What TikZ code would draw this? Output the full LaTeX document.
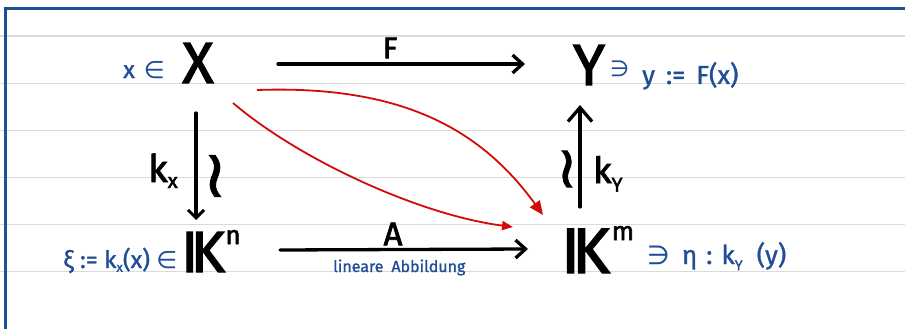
\documentclass[tikz,border=0pt]{standalone}
\usepackage{fontspec}
\setmainfont{Fira Sans}
\newfontfamily\symf{DejaVu Sans}
\newfontfamily\heavy{Fira Sans}[FakeBold=2.2]
\newfontfamily\medf{Fira Sans}[FakeBold=1.2]
\newfontfamily\symheavy{DejaVu Sans}[FakeBold=1.5]
\usetikzlibrary{arrows.meta,calc}
\definecolor{inkblue}{HTML}{1F4E96}
\definecolor{frameblue}{HTML}{1B4F93}
\definecolor{inkred}{HTML}{D20A0A}
\definecolor{rulegrey}{HTML}{DADADA}
\newcommand\lsub[2][-0.3ex]{\raisebox{#1}{\scalebox{0.55}{#2}}}
\tikzset{
  big/.style={inner sep=0pt, font=\fontsize{58}{60}\selectfont\heavy},
  lbl/.style={inner sep=0pt},
  bluetxt/.style={inner sep=0pt, text=inkblue, anchor=base west},
  blackarrow/.style={line width=3.3pt, line cap=round, line join=round},
  redarrow/.style={inkred, line width=1.8pt},
  rulestyle/.style={rulegrey, line width=1.6pt}
}
\begin{document}
\begin{tikzpicture}[x=1pt,y=-1pt]
\useasboundingbox (0,0) rectangle (905,329);
% ruled paper
\foreach \yy in {36,83.5,130.5,177.5,224.5,271.5}
  \draw[rulestyle] (0,\yy) -- (905,\yy);
% frame
\draw[frameblue, line width=3.6pt] (5.6,335) -- (5.6,8.5) -- (910,8.5);

% main objects
\node[big] (X) at (198,63) {X};
\node[big] (Y) at (589,65) {Y};
\node[lbl, anchor=base west, font=\fontsize{58}{60}\selectfont\heavy] (Kn) at (181,272)
  {I\kern-7.5pt K\kern0.5pt\raisebox{28pt}{\fontsize{26}{26}\selectfont n}};
\node[lbl, anchor=base west, font=\fontsize{64}{66}\selectfont\heavy] (Km) at (561,273)
  {I\kern-8pt K\kern2pt\raisebox{33pt}{\fontsize{26}{26}\selectfont m}};

% arrow labels
\node[lbl, font=\fontsize{30}{30}\selectfont\heavy] (F) at (390,48) {F};
\node[lbl, font=\fontsize{33}{33}\selectfont\heavy] (A) at (393,234) {A};
\node[lbl, anchor=base west, font=\fontsize{38}{38}\selectfont\heavy] (kx) at (148,182) {k\lsub{x}};
\node[lbl, anchor=base west, font=\fontsize{36}{36}\selectfont\heavy] (ky) at (593,183) {k\lsub[-0.45ex]{Y}};
\node[lbl, font=\fontsize{66}{66}\selectfont\symheavy] (isoL) at (215,176) {≀};
\node[lbl, font=\fontsize{58}{58}\selectfont\symheavy] (isoR) at (567,169) {≀};

% blue annotations
\node[bluetxt, font=\fontsize{24}{24}\selectfont\medf] (xin) at (123,78) {x\hspace{9pt}{\symf ∈}};
\node[bluetxt, font=\fontsize{22}{22}\selectfont\symf] (ni1) at (610,77) {∋};
\node[bluetxt, font=\fontsize{26}{26}\selectfont\medf] (ydef) at (642,84) {y\hspace{11pt}:=\hspace{11pt}F(x)};
\node[bluetxt, font=\fontsize{24}{24}\selectfont\medf] (xidef) at (63,268) {ξ := k\lsub{x}(x) {\symf ∈}};
\node[bluetxt, font=\fontsize{26}{26}\selectfont\medf] (etadef) at (647,264)
  {{\symf ∋}\hspace{12pt}η\hspace{9pt}:\hspace{9pt}k\lsub[-0.45ex]{Y}\hspace{14pt}(y)};
\node[bluetxt, font=\fontsize{16}{16}\selectfont\medf] (lin) at (333,272) {lineare\hspace{8pt}Abbildung};

% black arrows
\draw[blackarrow, -{Straight Barb[length=10pt,width=18pt,line width=3.3pt]}]
  ($(X.center)+(80,1)$) -- ($(Y.center)+(-64,-1)$);
\draw[blackarrow, -{Straight Barb[length=10pt,width=18pt,line width=3.3pt]}]
  ($(Kn.base west)+(99,-22)$) -- ($(Km.base west)+(-33,-24)$);
\draw[blackarrow, -{Straight Barb[length=8pt,width=16pt,line width=3pt]}]
  ($(X.center)+(-2,50)$) -- ($(Kn.base west)+(15,-52)$);
\draw[blackarrow, -{Straight Barb[length=14pt,width=24pt,line width=3.3pt]}]
  ($(Km.base west)+(19,-66)$) -- ($(Y.center)+(-9,40)$);

% red arrows
\draw[redarrow, -{Triangle[length=14pt,width=12pt]}]
  ($(X.center)+(59,27)$) .. controls +(143,-5) and +(-63,-87) .. ($(Km.base west)+(-18,-58)$);
\draw[redarrow, -{Triangle[length=11pt,width=9pt]}]
  ($(X.center)+(35,40)$) .. controls +(67,57) and +(-93,-12) .. ($(Km.base west)+(-48,-46)$);
\end{tikzpicture}
\end{document}
